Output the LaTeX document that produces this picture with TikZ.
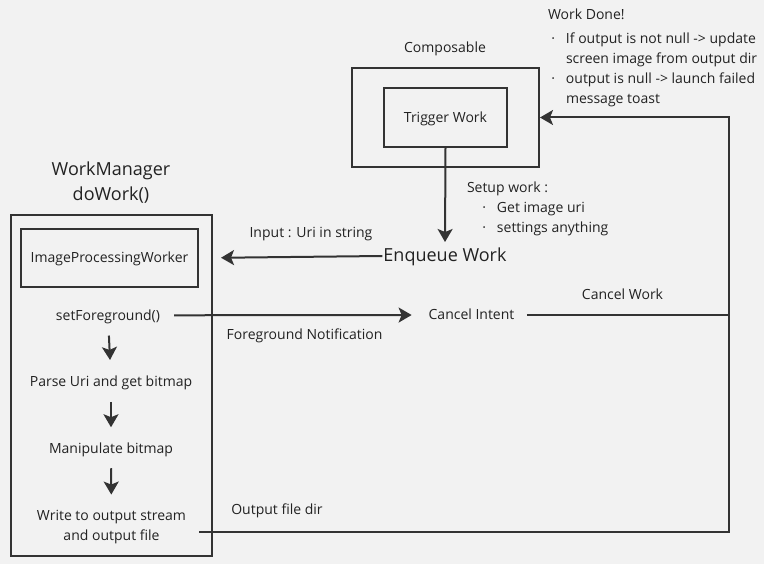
\documentclass[tikz,border=0pt]{standalone}
\usepackage{fontspec}
\setmainfont{Open Sans}
\usetikzlibrary{arrows.meta}
\definecolor{paper}{HTML}{F2F2F2}
\definecolor{ink}{HTML}{333333}
\definecolor{inktext}{HTML}{222222}
\newcommand{\dotitem}{\makebox[18pt][l]{\hspace{3.4pt}·}}
\newcommand{\dotskip}{\hspace{18pt}}

\begin{document}
\begin{tikzpicture}[x=1pt,y=-1pt,line width=2pt,color=ink,
    >={Stealth[length=13pt,width=15pt,inset=3pt]},
    box node/.style={draw,rectangle,inner sep=0pt},
    text node/.style={font=\fontsize{14}{20}\selectfont,text=inktext,inner sep=0pt},
    line node/.style={text node,text height=12pt,text depth=2.5pt},
    big node/.style={font=\fontsize{18}{25}\selectfont,text=inktext,inner sep=0pt,align=center},
    flow/.style={->,shorten <=12pt,shorten >=13.5pt}]

  \fill[paper] (0,0) rectangle (764,564);
  \useasboundingbox (0,0) rectangle (764,564);

  % composable side
  \node[line node] (composablelbl) at (445,48) {Composable};
  \node[box node,minimum width=187pt,minimum height=99pt] (composable) at (445.5,117.5) {};
  \node[box node,line node,minimum width=123pt,minimum height=59pt] (trigger) at (445.5,117.5) {Trigger Work};
  \node[big node,text height=15pt,text depth=3pt] (enqueue) at (445,256) {Enqueue Work};
  \node[text node,anchor=north west] (setup) at (466,177.5) {\begin{tabular}{@{}l@{}}
      Setup work :\\
      \hspace{12pt}\dotitem Get image uri\\
      \hspace{12pt}\dotitem settings anything
    \end{tabular}};
  \node[text node,anchor=north west] (done) at (547,5) {\begin{tabular}{@{}l@{}}
      Work Done!\\[3.7pt]
      \dotitem If output is not null -> update\\
      \dotskip screen image from output dir\\
      \dotitem output is null -> launch failed\\
      \dotskip message toast
    \end{tabular}};

  % worker side
  \node[big node] (title) at (111,183) {WorkManager\\doWork()};
  \node[box node,minimum width=201pt,minimum height=341pt] (worker) at (111.5,385.5) {};
  \node[box node,line node,minimum width=177pt,minimum height=58pt] (ipw) at (109.5,258) {ImageProcessingWorker};
  \node[line node] (setfg) at (108,315.3) {setForeground()};
  \node[line node] (parse) at (111,381.7) {Parse Uri and get bitmap};
  \node[line node] (manip) at (111,449) {Manipulate bitmap};
  \node[text node,align=center] (write) at (111.5,527.4) {Write to output stream\\and output file};

  \node[line node] (cancel) at (471.5,315) {Cancel Intent};

  % labels
  \node[line node] (inputlbl) at (311,232.3) {Input : Uri in string};
  \node[line node] (fglbl) at (304.5,335) {Foreground Notification};
  \node[line node] (cancellbl) at (622.5,295) {Cancel Work};
  \node[line node] (outlbl) at (277,510) {Output file dir};

  \coordinate (outstart) at (199,531.5);
  \coordinate (railtop) at (729,117.5);

  % connectors
  \draw[->,shorten >=4pt] (trigger.south) -- (enqueue.north);
  \draw[->,shorten >=22pt] (enqueue.west) -- (ipw.east);
  \draw[->,shorten <=13pt,shorten >=16pt] (setfg.east) -- (cancel.west);
  \draw[flow] (setfg) -- (parse);
  \draw[flow] (parse) -- (manip);
  \draw[flow,shorten <=11pt,shorten >=15pt] (manip) -- (write);
  \draw[shorten <=11.5pt] (cancel.east) -- (cancel.east -| railtop);
  \draw[->] (outstart) -| (railtop) -- (composable.east);
\end{tikzpicture}
\end{document}
